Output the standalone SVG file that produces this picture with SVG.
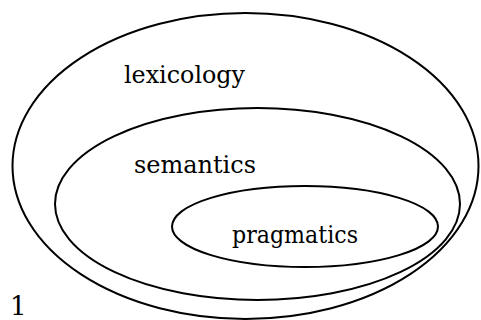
<svg xmlns="http://www.w3.org/2000/svg" width="481" height="320" viewBox="0 0 481 320">
<style>
.e{fill:none;stroke:#000;stroke-width:2}
text{font-family:'DejaVu Serif',serif;font-size:24px;fill:#000}
</style>
<rect width="481" height="320" fill="#fff"/>
<g id="lexicology">
<ellipse class="e" cx="245.5" cy="166" rx="233" ry="153"/>
<text x="124" y="82.5" textLength="121" lengthAdjust="spacingAndGlyphs">lexicology</text>
</g>
<g id="semantics">
<ellipse class="e" cx="257.5" cy="204" rx="202.5" ry="96"/>
<text x="134" y="172.5" textLength="122" lengthAdjust="spacingAndGlyphs">semantics</text>
</g>
<g id="pragmatics">
<ellipse class="e" cx="305" cy="226.5" rx="133" ry="40.5"/>
<text x="232" y="243" textLength="126" lengthAdjust="spacingAndGlyphs">pragmatics</text>
</g>
<g id="connectors"></g>
<text x="10" y="315" style="font-size:26px">1</text>
</svg>
